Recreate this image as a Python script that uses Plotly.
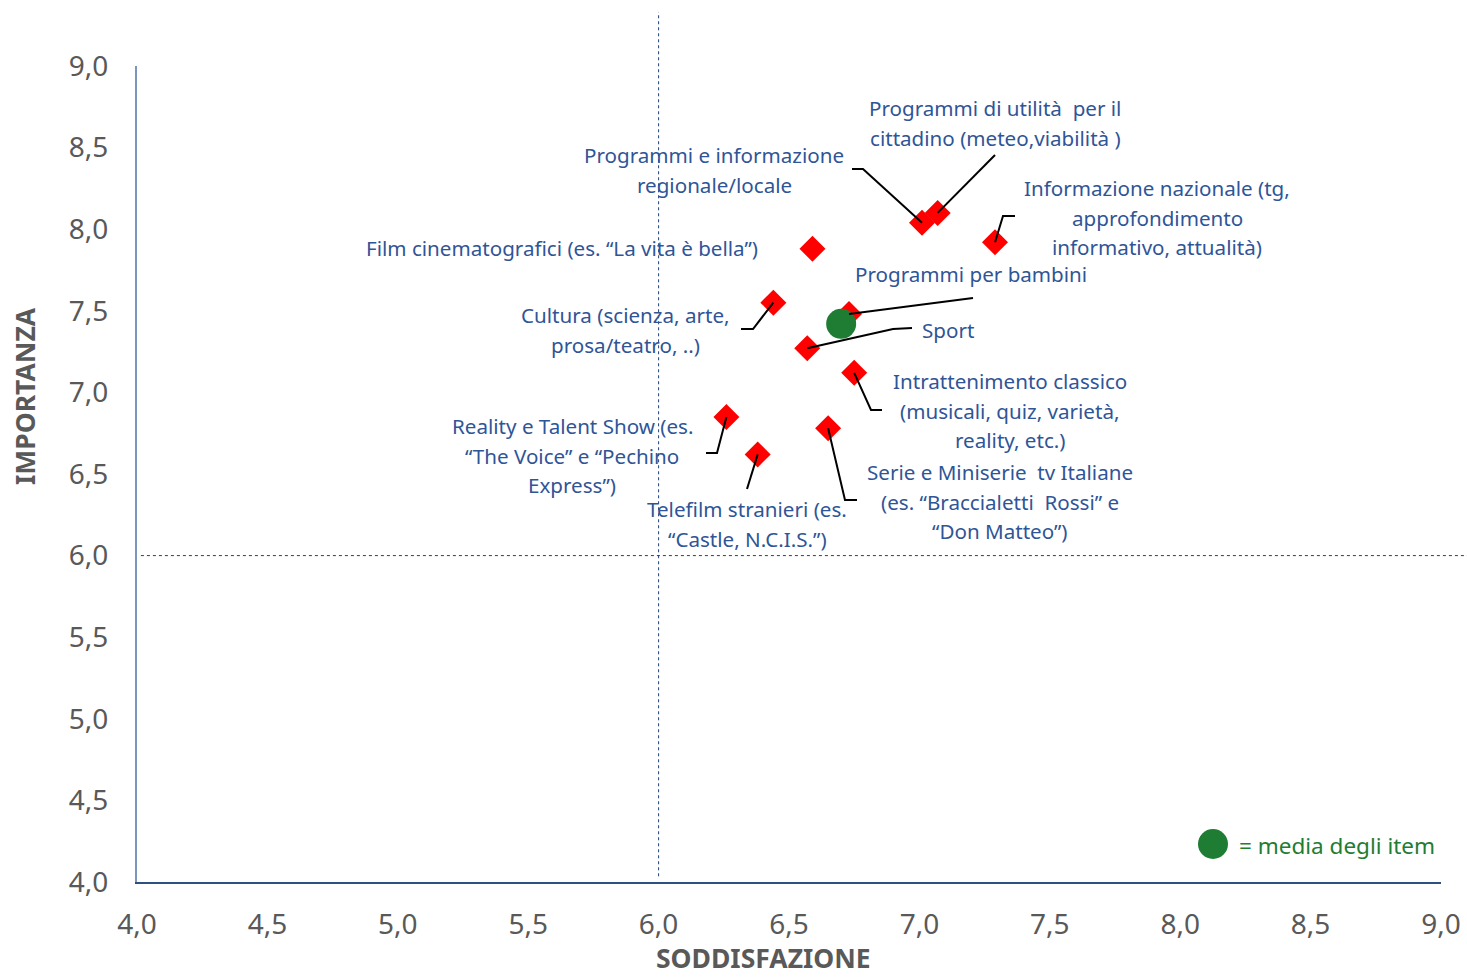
import plotly.graph_objects as go

# ---------------- data ----------------
categories = [
    "Film cinematografici",
    "Programmi e informazione regionale/locale",
    "Programmi di utilità per il cittadino",
    "Informazione nazionale",
    "Programmi per bambini",
    "Cultura",
    "Sport",
    "Intrattenimento classico",
    "Reality e Talent Show",
    "Serie e Miniserie tv Italiane",
    "Telefilm stranieri",
]
soddisfazione = [6.59, 7.01, 7.07, 7.29, 6.73, 6.44, 6.57, 6.75, 6.26, 6.65, 6.38]
importanza = [7.88, 8.04, 8.10, 7.92, 7.48, 7.55, 7.27, 7.12, 6.85, 6.78, 6.62]
media_x = [6.70]
media_y = [7.42]
soglia_x = 6.0
soglia_y = 6.0
tick_vals = [4.0, 4.5, 5.0, 5.5, 6.0, 6.5, 7.0, 7.5, 8.0, 8.5, 9.0]
tick_text = ["4,0", "4,5", "5,0", "5,5", "6,0", "6,5", "7,0", "7,5", "8,0", "8,5", "9,0"]

label_lines = {
    "Film cinematografici": ["Film cinematografici (es. “La vita è bella”)"],
    "Programmi e informazione regionale/locale": ["Programmi e informazione", "regionale/locale"],
    "Programmi di utilità per il cittadino": ["Programmi di utilità  per il", "cittadino (meteo,viabilità )"],
    "Informazione nazionale": ["Informazione nazionale (tg,", "approfondimento", "informativo, attualità)"],
    "Programmi per bambini": ["Programmi per bambini"],
    "Cultura": ["Cultura (scienza, arte,", "prosa/teatro, ..)"],
    "Sport": ["Sport"],
    "Intrattenimento classico": ["Intrattenimento classico", "(musicali, quiz, varietà,", "reality, etc.)"],
    "Reality e Talent Show": ["Reality e Talent Show (es.", "“The Voice” e “Pechino", "Express”)"],
    "Serie e Miniserie tv Italiane": ["Serie e Miniserie  tv Italiane", "(es. “Braccialetti  Rossi” e", "“Don Matteo”)"],
    "Telefilm stranieri": ["Telefilm stranieri (es.", "“Castle, N.C.I.S.”)"],
}

# ---------------- layout geometry (pixel frame of the page) ----------------
W, H = 1467, 977
L, R, T, B = 137, 26, 66, 95
X0, X1, Y0, Y1 = 4.0, 9.0, 4.0, 9.0
pw, ph = W - L - R, H - T - B


def px2x(px):
    return X0 + (px - L) / pw * (X1 - X0)


def py2y(py):
    return Y0 + (H - B - py) / ph * (Y1 - Y0)


# label placement: (centre x px, first line y px)
label_pos = {
    "Film cinematografici": (562, 248),
    "Programmi e informazione regionale/locale": (714, 155),
    "Programmi di utilità per il cittadino": (995, 108),
    "Informazione nazionale": (1157, 188),
    "Programmi per bambini": (971, 274),
    "Cultura": (625, 315),
    "Sport": (948, 330),
    "Intrattenimento classico": (1010, 381),
    "Reality e Talent Show": (572, 426),
    "Serie e Miniserie tv Italiane": (1000, 472),
    "Telefilm stranieri": (747, 509),
}
line_gap = 29.5

# leader-line vertices (px) before reaching the point
leader = {
    "Programmi e informazione regionale/locale": [(852, 169), (863, 169)],
    "Programmi di utilità per il cittadino": [(995, 155)],
    "Informazione nazionale": [(1015, 216), (1003, 216)],
    "Programmi per bambini": [(973, 298)],
    "Sport": [(912, 328), (893, 329)],
    "Intrattenimento classico": [(882, 410), (871, 410)],
    "Serie e Miniserie tv Italiane": [(857, 500), (845, 500)],
    "Telefilm stranieri": [(747, 489)],
    "Reality e Talent Show": [(706, 453), (717, 453)],
    "Cultura": [(741, 329), (753, 329)],
}

TXT = "#2f5597"
FONT = "Noto Sans"
GRAY = "#595959"
GREEN = "#1e7d32"

fig = go.Figure()

# leader lines
shapes = []
for cat, pts in leader.items():
    i = categories.index(cat)
    verts = [(px2x(a), py2y(b)) for a, b in pts] + [(soddisfazione[i], importanza[i])]
    path = "M " + " L ".join(f"{vx:.4f},{vy:.4f}" for vx, vy in verts)
    shapes.append(dict(type="path", path=path, xref="x", yref="y",
                       line=dict(color="black", width=2), layer="above"))

# threshold dotted lines
shapes.append(dict(type="line", xref="x", yref="paper", x0=soglia_x, x1=soglia_x,
                   y0=0.007, y1=(H - B - 12) / ph, line=dict(color="#1f3f7a", width=1, dash="dot")))
shapes.append(dict(type="line", xref="paper", yref="y", x0=0.003, x1=(W - L) / pw,
                   y0=soglia_y, y1=soglia_y, line=dict(color="#1f3f7a", width=1, dash="dot")))
# legend marker
shapes.append(dict(type="circle", xref="paper", yref="paper", xsizemode="pixel", ysizemode="pixel",
                   xanchor=(1213 - L) / pw, yanchor=(H - B - 844) / ph,
                   x0=-15, x1=15, y0=-15, y1=15, fillcolor=GREEN, line=dict(width=0), layer="above"))

fig.add_trace(go.Scatter(
    x=soddisfazione, y=importanza, mode="markers", text=categories,
    marker=dict(symbol="diamond", size=20, color="#ff0000", line=dict(width=0)),
    showlegend=False, cliponaxis=False,
))
fig.add_trace(go.Scatter(
    x=media_x, y=media_y, mode="markers",
    marker=dict(symbol="circle", size=30, color=GREEN, line=dict(width=0)),
    showlegend=False, cliponaxis=False,
))

annotations = []
for cat, lines in label_lines.items():
    cx, cy = label_pos[cat]
    for k, ln in enumerate(lines):
        annotations.append(dict(
            x=px2x(cx), y=py2y(cy + k * line_gap), xref="x", yref="y",
            text=ln, showarrow=False, xanchor="center", yanchor="middle",
            font=dict(family=FONT, size=20.6, color=TXT),
        ))

annotations.append(dict(x=(1237 - L) / pw, y=(H - B - 845) / ph, xref="paper", yref="paper",
                        text="= media degli item", showarrow=False, xanchor="left", yanchor="middle",
                        font=dict(family=FONT, size=22.5, color=GREEN)))
annotations.append(dict(x=(763 - L) / pw, y=(H - B - 958) / ph, xref="paper", yref="paper",
                        text="<b>SODDISFAZIONE</b>", showarrow=False, xanchor="center", yanchor="middle",
                        font=dict(family=FONT, size=26.5, color=GRAY)))
annotations.append(dict(x=(25 - L) / pw, y=(H - B - 396) / ph, xref="paper", yref="paper",
                        text="<b>IMPORTANZA</b>", showarrow=False, xanchor="center", yanchor="middle",
                        textangle=-90, font=dict(family=FONT, size=26.5, color=GRAY)))

fig.update_layout(
    width=W, height=H, autosize=False,
    margin=dict(l=L, r=R, t=T, b=B, pad=0, autoexpand=False),
    paper_bgcolor="white", plot_bgcolor="white",
    shapes=shapes, annotations=annotations,
    xaxis=dict(range=[X0, X1], tickvals=tick_vals, ticktext=tick_text, showgrid=False, zeroline=False,
               showline=True, linecolor="#2f4f80", linewidth=2, ticks="", ticklabelstandoff=16,
               automargin=False,
               tickfont=dict(family=FONT, size=28, color=GRAY), fixedrange=True),
    yaxis=dict(range=[Y0, Y1], tickvals=tick_vals, ticktext=tick_text, showgrid=False, zeroline=False,
               showline=True, linecolor="#7a96bc", linewidth=2, ticks="", ticklabelstandoff=21,
               automargin=False,
               tickfont=dict(family=FONT, size=28, color=GRAY), fixedrange=True),
)

fig.write_html(
    "out.html",
    config={"displayModeBar": False},
    post_script="document.body.style.margin='0';document.body.style.overflow='hidden';",
)
